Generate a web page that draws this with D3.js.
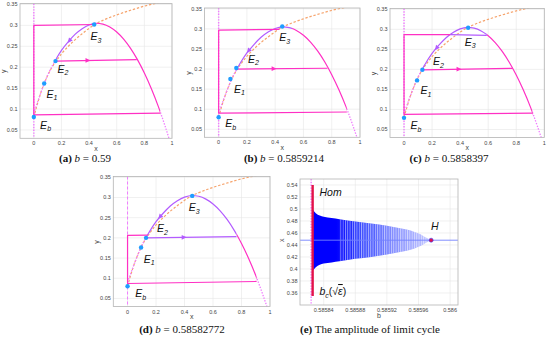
<!DOCTYPE html>
<html>
<head>
<meta charset="utf-8">
<script src="https://cdn.jsdelivr.net/npm/d3@7"></script>
<style>
  body { margin: 0; background: #fff; }
  svg { display: block; }
</style>
</head>
<body>
<svg id="fig" width="550" height="338"></svg>
<script>
// ===== DATA =====
// critical manifold (hump) and y-nullcline, shared by panels a-d
const humpX = [0, 0.05, 0.1, 0.15, 0.2, 0.25, 0.3, 0.35, 0.4, 0.45, 0.5, 0.55, 0.6, 0.65, 0.7, 0.75, 0.8, 0.85, 0.9, 0.95, 0.98];
const humpY = [0.09, 0.138, 0.181, 0.213, 0.24, 0.261, 0.279, 0.292, 0.301, 0.305, 0.303, 0.296, 0.284, 0.267, 0.245, 0.218, 0.186, 0.149, 0.107, 0.059, 0.028];
const nullX = [0, 0.04, 0.08, 0.12, 0.16, 0.2, 0.25, 0.3, 0.35, 0.4, 0.45, 0.5, 0.6, 0.7, 0.8, 0.9, 0.95];
const nullY = [0.08, 0.128, 0.165, 0.193, 0.214, 0.232, 0.25, 0.266, 0.28, 0.293, 0.304, 0.312, 0.325, 0.336, 0.346, 0.354, 0.358];

const phaseXTicks = [0, 0.2, 0.4, 0.6, 0.8, 1];
const phaseXLabels = ['0', '0.2', '0.4', '0.6', '0.8', '1'];
const phaseYTicks = [0.05, 0.1, 0.15, 0.2, 0.25, 0.3, 0.35];
const phaseYLabels = ['0.05', '0.1', '0.15', '0.2', '0.25', '0.3', '0.35'];

const panelIds = ['a', 'b', 'c', 'd'];
const panelB = ['0.59', '0.5859214', '0.5858397', '0.58582772'];
const eqNames = ['b', '1', '2', '3'];

// equilibria Eb, E1, E2, E3
const eqA = [[0, 0.081], [0.075, 0.161], [0.157, 0.2146], [0.437, 0.302]];
const eqB = [[0, 0.08], [0.083, 0.175], [0.125, 0.2025], [0.45, 0.306]];
const eqC = [[0, 0.079], [0.093, 0.1725], [0.131, 0.199], [0.457, 0.304]];
const eqD = [[0, 0.08], [0.095, 0.176], [0.13, 0.2], [0.454, 0.304]];

// relaxation cycle (top jump, slow descent along x=0, bottom jump)
const cycleA = [[0.44, 0.302], [0, 0.3], [0, 0.086], [0.915, 0.09]];
const cycleB = [[0.43, 0.299], [0, 0.297], [0, 0.09], [0.907, 0.093]];
const cycleC = [[0.33, 0.287], [0, 0.287], [0, 0.0875], [0.917, 0.091]];
const cycleD = [[0.141, 0.207], [0, 0.206], [0, 0.087], [0.906, 0.092]];
const topC = [[0.33, 0.287], [0.59, 0.285]];

// horizontal orbit leaving E2
const midA = [[0.157, 0.2146], [0.745, 0.218]];
const midB = [[0.125, 0.2], [0.77, 0.202]];
const midC = [[0.131, 0.199], [0.774, 0.2025]];
const midD = [[0.13, 0.2], [0.765, 0.203]];

// purple part of the manifold [from, to]
const arcA = [0.157, 0.44];
const arcB = [0.125, 0.52];
const arcC = [0.131, 0.59];
const arcD = [0.13, 0.765];

// arrows [tail, tip]
const arcArrowA = [[0.265, 0.266], [0.245, 0.258]];
const arcArrowB = [[0.22, 0.249], [0.2, 0.24]];
const arcArrowC = [[0.24, 0.257], [0.22, 0.248]];
const arcArrowD = [[0.235, 0.255], [0.215, 0.247]];
const midArrowX = [0.41, 0.41, 0.41, 0.415];

// panel e: amplitude of the limit cycle
const ampB   = [0.585826, 0.58583, 0.585835, 0.58584, 0.58585, 0.58586, 0.58588, 0.5859, 0.58592, 0.58594, 0.58595, 0.58596, 0.585965, 0.58597, 0.585976];
const ampMax = [0.499, 0.493, 0.489, 0.487, 0.485, 0.483, 0.479, 0.476, 0.472, 0.467, 0.464, 0.459, 0.456, 0.452, 0.448];
const ampMin = [0.397, 0.403, 0.407, 0.409, 0.411, 0.413, 0.417, 0.42, 0.424, 0.429, 0.432, 0.437, 0.44, 0.444, 0.448];
const homB = 0.585826;
const homRange = [0.355, 0.54];
const hopfPoint = [0.585976, 0.448];
const eqLevel = 0.448;
const eXTicks = [0.58584, 0.58588, 0.58592, 0.58596, 0.586];
const eXLabels = ['0.58584', '0.58588', '0.58592', '0.58596', '0.586'];
const eYTicks = [0.36, 0.38, 0.4, 0.42, 0.44, 0.46, 0.48, 0.5, 0.52, 0.54];
const eYLabels = ['0.36', '0.38', '0.4', '0.42', '0.44', '0.46', '0.48', '0.5', '0.52', '0.54'];

// ===== LAYOUT / STYLE =====
const MAG = '#ff30c4', PUR = '#b35cff', BLU = '#1f9dff', ORA = '#f6a36c', DOT = '#f07cff';
const GRID = '#e6e6e6', FRAME = '#b4b4b4', TXT = '#444';
const SANS = 'Liberation Sans, Arial, sans-serif';
const SERIF = 'Liberation Serif, Times New Roman, serif';

// [left, right, top, bottom]
const boxes = [[20, 172, 3.6, 138.3], [204.5, 360, 8, 137.3], [390, 544.3, 8.5, 137.5], [113.3, 270, 176.5, 306.5]];
const captionPos = [[85, 162], [284, 162], [449, 162], [182, 333]];
// label offsets (px) for Eb, E1, E2, E3
const labelOff = [
  [[6.3, 12], [2.4, 14.2], [2, 11.5], [-3.6, 15.7]],
  [[6.7, 10.2], [3.6, 13.7], [11.6, -5.3], [-3, 15]],
  [[6.4, 11.3], [3.4, 13.7], [10.6, -4.7], [-3.3, 18]],
  [[7.7, 10.7], [2.6, 15.3], [11, -5.7], [-3.4, 15.3]]
];

const svg = d3.select('#fig');
const defs = svg.append('defs');
let clipCount = 0;

function frameAndGrid(g, x, y, xt, xl, yt, yl, box) {
    const [L, R, T, B] = box;
    g.append('rect').attr('x', L).attr('y', T).attr('width', R - L).attr('height', B - T).attr('fill', '#fff');
    g.selectAll('.gx').data(xt).join('line')
        .attr('x1', d => x(d)).attr('x2', d => x(d)).attr('y1', T).attr('y2', B)
        .attr('stroke', GRID).attr('stroke-width', 0.6);
    g.selectAll('.gy').data(yt).join('line')
        .attr('x1', L).attr('x2', R).attr('y1', d => y(d)).attr('y2', d => y(d))
        .attr('stroke', GRID).attr('stroke-width', 0.6);
    g.selectAll('.tx').data(xt).join('text')
        .attr('x', d => x(d)).attr('y', B + 7).attr('text-anchor', 'middle')
        .attr('font-family', SANS).attr('font-size', 5.5).attr('fill', TXT)
        .text((d, i) => xl[i]);
    g.selectAll('.ty').data(yt).join('text')
        .attr('x', L - 2.5).attr('y', d => y(d) + 2).attr('text-anchor', 'end')
        .attr('font-family', SANS).attr('font-size', 5.5).attr('fill', TXT)
        .text((d, i) => yl[i]);
}

function drawFrame(g, box) {
    const [L, R, T, B] = box;
    g.append('rect').attr('x', L).attr('y', T).attr('width', R - L).attr('height', B - T)
        .attr('fill', 'none').attr('stroke', FRAME).attr('stroke-width', 0.8);
}

function clipRect(x0, y0, w, h) {
    const id = 'clip' + (clipCount++);
    defs.append('clipPath').attr('id', id).append('rect')
        .attr('x', x0).attr('y', y0).attr('width', w).attr('height', h);
    return `url(#${id})`;
}

function eLabel(g, px, py, sub) {
    const t = g.append('text').attr('x', px).attr('y', py)
        .attr('font-family', SANS).attr('font-style', 'italic').attr('font-size', 10.5).attr('fill', '#111');
    t.append('tspan').text('E');
    t.append('tspan').attr('font-size', 7).attr('dy', 2.5).text(sub);
}

function caption(cx, cy, tag, rest) {
    const t = svg.append('text').attr('x', cx).attr('y', cy).attr('text-anchor', 'middle')
        .attr('font-family', SERIF).attr('font-size', 11).attr('fill', '#111');
    t.append('tspan').attr('font-weight', 700).text(`(${tag})`);
    rest(t);
}

const eqs = [eqA, eqB, eqC, eqD];
const cycles = [cycleA, cycleB, cycleC, cycleD];
const mids = [midA, midB, midC, midD];
const midColors = [MAG, MAG, MAG, PUR];
const arcs = [arcA, arcB, arcC, arcD];
const arcArrows = [arcArrowA, arcArrowB, arcArrowC, arcArrowD];
const hump = humpX.map((v, i) => [v, humpY[i]]);
const nullc = nullX.map((v, i) => [v, nullY[i]]);

panelIds.forEach((id, k) => {
    const box = boxes[k];
    const [L, R, T, B] = box;
    const x = d3.scaleLinear().domain([-0.1, 1]).range([L, R]);
    const y = d3.scaleLinear().domain([0.03, 0.352]).range([B, T]);
    const g = svg.append('g');
    frameAndGrid(g, x, y, phaseXTicks, phaseXLabels, phaseYTicks, phaseYLabels, box);

    const plot = g.append('g').attr('clip-path', clipRect(L, T, R - L, B - T));
    const curve = d3.line().x(d => x(d[0])).y(d => y(d[1])).curve(d3.curveMonotoneX);
    const poly = d3.line().x(d => x(d[0])).y(d => y(d[1]));

    // x = 0 nullcline
    plot.append('line').attr('x1', x(0)).attr('x2', x(0)).attr('y1', T).attr('y2', B)
        .attr('stroke', DOT).attr('stroke-width', k === 3 ? 1 : 1.4)
        .attr('stroke-dasharray', k === 3 ? '3,2' : '1.4,1.4');

    // y-nullcline
    plot.append('path').attr('d', curve(nullc)).attr('fill', 'none')
        .attr('stroke', ORA).attr('stroke-width', 1.2).attr('stroke-dasharray', '2.4,1.8');

    // manifold pieces
    const cyc = cycles[k];
    const arc = arcs[k];
    const rightEnd = cyc[3][0];
    const humpPiece = (x0, x1, color, dash, w) => {
        plot.append('g').attr('clip-path', clipRect(x(x0), 0, x(x1) - x(x0), 338))
            .append('path').attr('d', curve(hump)).attr('fill', 'none')
            .attr('stroke', color).attr('stroke-width', w)
            .attr('stroke-dasharray', dash);
    };
    humpPiece(-0.05, arc[0], DOT, '1.4,1.4', 1.3);
    humpPiece(rightEnd, 1.05, DOT, '1.4,1.4', 1.3);
    humpPiece(arc[1], rightEnd, MAG, null, 1.2);
    humpPiece(arc[0], arc[1], PUR, null, 1.2);

    // trajectories
    plot.append('path').attr('d', poly(cyc)).attr('fill', 'none')
        .attr('stroke', MAG).attr('stroke-width', 1.2).attr('stroke-linejoin', 'round');
    if (k === 2) {
        plot.append('path').attr('d', poly(topC)).attr('fill', 'none')
            .attr('stroke', PUR).attr('stroke-width', 1.2);
    }
    const mid = mids[k];
    plot.append('path').attr('d', poly(mid)).attr('fill', 'none')
        .attr('stroke', midColors[k]).attr('stroke-width', 1.2);

    // arrows
    const arrow = (a, b, color) => {
        const x1 = x(a[0]), y1 = y(a[1]), x2 = x(b[0]), y2 = y(b[1]);
        const ang = Math.atan2(y2 - y1, x2 - x1) * 180 / Math.PI;
        plot.append('path').attr('d', 'M0,0L-5,-2.4L-5,2.4Z')
            .attr('transform', `translate(${x2},${y2}) rotate(${ang})`).attr('fill', color);
    };
    const ax = midArrowX[k];
    const ay = mid[0][1] + (mid[1][1] - mid[0][1]) * (ax - mid[0][0]) / (mid[1][0] - mid[0][0]);
    arrow([ax - 0.03, ay], [ax, ay], midColors[k]);
    arrow(arcArrows[k][0], arcArrows[k][1], PUR);

    // equilibria
    plot.selectAll('.eq').data(eqs[k]).join('circle')
        .attr('cx', d => x(d[0])).attr('cy', d => y(d[1])).attr('r', 2.2).attr('fill', BLU);

    drawFrame(g, box);

    eqs[k].forEach((d, i) => {
        eLabel(g, x(d[0]) + labelOff[k][i][0], y(d[1]) + labelOff[k][i][1], eqNames[i]);
    });

    // axis labels
    g.append('text').attr('x', (L + R) / 2).attr('y', B + 12.5).attr('text-anchor', 'middle')
        .attr('font-family', SANS).attr('font-size', 7).attr('fill', TXT).text('x');
    g.append('text').attr('transform', `translate(${L - 14},${y(0.19)}) rotate(-90)`)
        .attr('text-anchor', 'middle').attr('font-family', SANS).attr('font-size', 7).attr('fill', TXT).text('y');

    caption(captionPos[k][0], captionPos[k][1], id, t => {
        t.append('tspan').text(' ');
        t.append('tspan').attr('font-style', 'italic').text('b');
        t.append('tspan').text(' = ' + panelB[k]);
    });
});

// ===== PANEL E =====
(function () {
    const box = [300, 458, 179, 305];
    const [L, R, T, B] = box;
    const x = d3.scaleLinear().domain([0.58581, 0.58601]).range([L, R]);
    const y = d3.scaleLinear().domain([0.34, 0.55]).range([B, T]);
    const g = svg.append('g');
    frameAndGrid(g, x, y, eXTicks, eXLabels, eYTicks, eYLabels, box);
    const plot = g.append('g').attr('clip-path', clipRect(L, T, R - L, B - T));

    const amp = ampB.map((b, i) => ({ b, hi: ampMax[i], lo: ampMin[i] }));
    const area = d3.area().x(d => x(d.b)).y0(d => y(d.lo)).y1(d => y(d.hi)).curve(d3.curveMonotoneX);

    const grad = defs.append('linearGradient').attr('id', 'ampGrad')
        .attr('gradientUnits', 'userSpaceOnUse')
        .attr('x1', x(ampB[0])).attr('x2', x(hopfPoint[0])).attr('y1', 0).attr('y2', 0);
    [[0, '#0000ff'], [0.2, '#0000ff'], [0.4, '#3344ff'], [0.7, '#8690ff'], [1, '#c4c8ff']]
        .forEach(s => grad.append('stop').attr('offset', s[0]).attr('stop-color', s[1]));

    const pat = defs.append('pattern').attr('id', 'stripes').attr('patternUnits', 'userSpaceOnUse')
        .attr('width', 2.3).attr('height', 10);
    pat.append('rect').attr('x', 0).attr('y', 0).attr('width', 0.9).attr('height', 10)
        .attr('fill', '#fff').attr('fill-opacity', 0.55);

    defs.append('clipPath').attr('id', 'ampClip').append('path').attr('d', area(amp));

    plot.append('path').attr('d', area(amp)).attr('fill', 'url(#ampGrad)');
    plot.append('rect').attr('x', x(0.58586)).attr('y', T)
        .attr('width', x(hopfPoint[0]) - x(0.58586)).attr('height', B - T)
        .attr('fill', 'url(#stripes)').attr('clip-path', 'url(#ampClip)');

    plot.append('line').attr('x1', L).attr('x2', R).attr('y1', y(eqLevel)).attr('y2', y(eqLevel))
        .attr('stroke', '#7482ff').attr('stroke-width', 0.9);

    plot.append('line').attr('x1', x(homB) - 1.5).attr('x2', x(homB) - 1.5).attr('y1', T).attr('y2', B)
        .attr('stroke', DOT).attr('stroke-width', 1.4).attr('stroke-dasharray', '1.4,1.4');
    plot.append('line').attr('x1', x(homB)).attr('x2', x(homB))
        .attr('y1', y(homRange[0])).attr('y2', y(homRange[1]))
        .attr('stroke', '#e3124a').attr('stroke-width', 2.4);

    plot.append('circle').attr('cx', x(hopfPoint[0])).attr('cy', y(hopfPoint[1])).attr('r', 2)
        .attr('fill', '#e3124a').attr('stroke', '#3040ff').attr('stroke-width', 0.6);

    drawFrame(g, box);

    const lab = (px, py, txt) => g.append('text').attr('x', px).attr('y', py)
        .attr('font-family', SANS).attr('font-style', 'italic').attr('font-size', 10.5).attr('fill', '#111').text(txt);
    lab(319.5, 196, 'Hom');
    lab(431, 230, 'H');
    const bc = g.append('text').attr('x', 319.5).attr('y', 295)
        .attr('font-family', SANS).attr('font-size', 10.5).attr('fill', '#111');
    bc.append('tspan').attr('font-style', 'italic').text('b');
    bc.append('tspan').attr('font-size', 7).attr('dy', 2.5).attr('font-style', 'italic').text('c');
    bc.append('tspan').attr('dy', -2.5).text('(√');
    bc.append('tspan').attr('font-style', 'italic').style('text-decoration', 'overline').text('ε');
    bc.append('tspan').text(')');

    g.append('text').attr('x', (L + R) / 2).attr('y', B + 12.5).attr('text-anchor', 'middle')
        .attr('font-family', SANS).attr('font-size', 7).attr('fill', TXT).text('b');
    g.append('text').attr('transform', `translate(${L - 16},${y(0.448)}) rotate(-90)`)
        .attr('text-anchor', 'middle').attr('font-family', SANS).attr('font-size', 7).attr('fill', TXT).text('x');

    caption(370, 333, 'e', t => t.append('tspan').text(' The amplitude of limit cycle'));
})();
</script>
</body>
</html>
